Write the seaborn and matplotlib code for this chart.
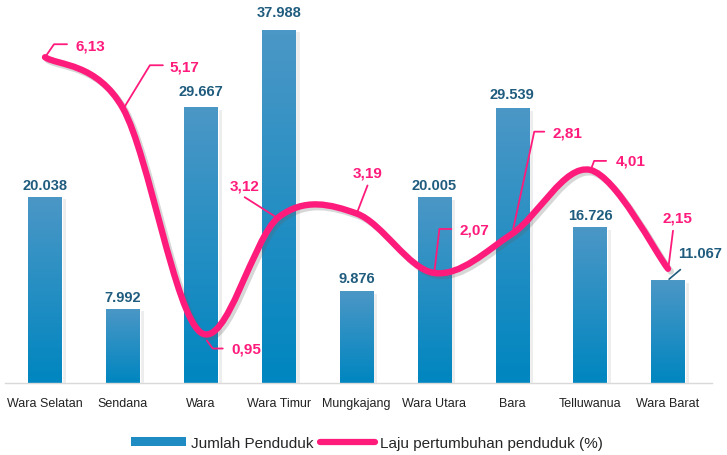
import numpy as np
import pandas as pd
import matplotlib
matplotlib.use("Agg")
import matplotlib.pyplot as plt
import seaborn as sns
from matplotlib.path import Path
from matplotlib.patches import PathPatch, Patch
from matplotlib.lines import Line2D
from matplotlib.colors import LinearSegmentedColormap
import matplotlib.patheffects as pe

# data
kecamatan = ["Wara Selatan", "Sendana", "Wara", "Wara Timur", "Mungkajang",
             "Wara Utara", "Bara", "Telluwanua", "Wara Barat"]
jumlah = [20038, 7992, 29667, 37988, 9876, 20005, 29539, 16726, 11067]
jumlah_txt = ["20.038", "7.992", "29.667", "37.988", "9.876",
              "20.005", "29.539", "16.726", "11.067"]
laju = [6.13, 5.17, 0.95, 3.12, 3.19, 2.07, 2.81, 4.01, 2.15]
laju_txt = ["6,13", "5,17", "0,95", "3,12", "3,19", "2,07", "2,81", "4,01", "2,15"]

pink = "#FF1B7C"
navy = "#1F5C7E"
df = pd.DataFrame({"kecamatan": kecamatan, "jumlah": jumlah, "laju": laju})

sns.set_style("white")
plt.rcParams["font.family"] = ["Liberation Sans", "DejaVu Sans"]

fig = plt.figure(figsize=(7.27, 4.56), dpi=100)
ax = fig.add_axes([5 / 727, 72 / 456, 707 / 727, 372 / 456])

sns.barplot(data=df, x="kecamatan", y="jumlah", ax=ax, width=0.43,
            color="#0A86BE", saturation=1)

# gradient fill on each bar + soft shadow
cmap = LinearSegmentedColormap.from_list("bar", ["#0086C0", "#4B97C6"])
grad = np.linspace(0, 1, 100).reshape(-1, 1)
for p in ax.patches:
    p.set_path_effects([pe.SimplePatchShadow(offset=(3, -2), shadow_rgbFace="#909090", alpha=0.16),
                        pe.Normal()])
    b = p.get_bbox()
    im = ax.imshow(grad, extent=[b.x0, b.x1, b.y0, b.y1], origin="lower",
                   aspect="auto", cmap=cmap, zorder=p.get_zorder() + 0.1)
    im.set_clip_path(p)

ax.set_xlim(-0.514, 8.565)
ax.set_ylim(0, 40000)
ax.set_xlabel("")
ax.set_ylabel("")
ax.set_yticks([])
ax.tick_params(axis="x", length=0, pad=10, labelsize=9, labelcolor="#222222")
for s in ["left", "right", "top"]:
    ax.spines[s].set_visible(False)
ax.spines["bottom"].set_color("#D9D9D9")
ax.spines["bottom"].set_linewidth(1)

# bar value labels
bar_dy = [12, 12, 16, 18, 13, 12, 14, 12, 0]
for i, (v, t) in enumerate(zip(jumlah, jumlah_txt)):
    if i == 8:
        continue
    ax.annotate(t, (i, v), xytext=(0, bar_dy[i]), textcoords="offset pixels",
                ha="center", va="center", fontsize=10.5, fontweight="bold", color=navy)
# Wara Barat label with leader
ax.annotate(jumlah_txt[8], (8, jumlah[8]), xytext=(32, 27), textcoords="offset pixels",
            ha="center", va="center", fontsize=10.5, fontweight="bold", color=navy,
            arrowprops=dict(arrowstyle="-", color=navy, lw=1.2, shrinkA=7, shrinkB=1))

# smooth growth line on secondary axis
ax2 = ax.twinx()
ax2.set_ylim(0, 7)
ax2.set_yticks([])
for s in ax2.spines.values():
    s.set_visible(False)

xs = np.arange(len(laju), dtype=float)
ys = np.array(laju)
px = np.concatenate([[xs[0]], xs, [xs[-1]]])
py = np.concatenate([[ys[0]], ys, [ys[-1]]])
verts = [(xs[0], ys[0])]
codes = [Path.MOVETO]
for k in range(1, len(px) - 2):
    c1 = (px[k] + (px[k + 1] - px[k - 1]) / 6, py[k] + (py[k + 1] - py[k - 1]) / 6)
    c2 = (px[k + 1] - (px[k + 2] - px[k]) / 6, py[k + 1] - (py[k + 2] - py[k]) / 6)
    verts += [c1, c2, (px[k + 1], py[k + 1])]
    codes += [Path.CURVE4] * 3
curve = PathPatch(Path(verts, codes), fill=False, edgecolor=pink, lw=4.6,
                  capstyle="round", joinstyle="round", zorder=5)
curve.set_path_effects([pe.SimpleLineShadow(offset=(2, -2), shadow_color="#606060", alpha=0.25),
                        pe.Normal()])
ax2.add_patch(curve)

# line labels with leader lines (offsets in pixels, y downwards)
leaders = [
    [(0, 0), (9, -13), (22, -13)],
    [(2, -2), (27, -43), (40, -43)],
    [(6, 8), (12, 16), (22, 16)],
    [(-4, -1), (-34, -20)],
    [(1, -2), (11, -28)],
    [(0, -1), (5, -44), (17, -44)],
    [(1, -5), (22, -102), (32, -102)],
    [(1, -1), (4, -9), (16, -9)],
    [(0, 2), (5, -38)],
]
text_pos = [(30, -12, "left"), (47, -42, "left"), (31, 16, "left"), (-34, -32, "center"),
            (11, -41, "center"), (25, -43, "left"), (40, -101, "left"), (26, -9, "left"),
            (9, -51, "center")]
inv = ax2.transData.inverted()
for i, (v, t) in enumerate(zip(laju, laju_txt)):
    x0, y0 = ax2.transData.transform((i, v))
    pts = inv.transform([(x0 + dx, y0 - dy) for dx, dy in leaders[i]])
    ax2.plot(pts[:, 0], pts[:, 1], color=pink, lw=1.3, zorder=6)
    dx, dy, ha = text_pos[i]
    ax2.annotate(t, (i, v), xytext=(dx, -dy), textcoords="offset pixels",
                 ha=ha, va="center", fontsize=11, fontweight="bold", color=pink, zorder=7)

handles = [Patch(facecolor="#1E8CC2", edgecolor="none"),
           Line2D([0], [0], color=pink, lw=4.5, solid_capstyle="round")]
fig.legend(handles, ["Jumlah Penduduk", "Laju pertumbuhan penduduk (%)"],
           loc="center", bbox_to_anchor=(0.505, 0.027), ncol=2, frameon=False,
           fontsize=11, handlelength=3.6, handleheight=0.55, handletextpad=0.35,
           columnspacing=0.4)

fig.savefig("out.png", dpi=100)
